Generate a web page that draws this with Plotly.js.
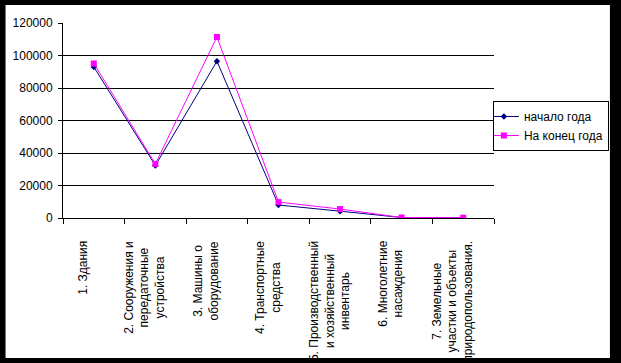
<!DOCTYPE html>
<html>
<head>
<meta charset="utf-8">
<script src="https://cdn.plot.ly/plotly-3.0.1.min.js"></script>
<style>html,body{margin:0;padding:0;background:#000;}#chart{width:621px;height:363px;}</style>
</head>
<body>
<div id="chart"></div>
<script>
var categories = [
  "1. Здания",
  "2. Сооружения и<br>передаточные<br>устройства",
  "3. Машины о<br>оборудование",
  "4. Транспортные<br>средства",
  "5. Производственный<br>и хозяйственный<br>инвентарь",
  "6. Многолетние<br>насаждения",
  "7. Земельные<br>участки и объекты<br>природопользования."
];
var seriesNames = ["начало года", "На конец года"];
var startOfYear = [93000, 32300, 96500, 8000, 4200, 300, 100];
var endOfYear = [95100, 33300, 111400, 9800, 5500, 300, 200];
var yTickVals = [0, 20000, 40000, 60000, 80000, 100000, 120000];

var W = 621, H = 363;
var M = {l: 63, r: 123, t: 23, b: 145};
var pw = W - M.l - M.r, ph = H - M.t - M.b;
function px2x(p) { return (p - M.l) / pw; }
function py2y(p) { return (H - M.b - p) / ph; }

var font = "Arial, 'Liberation Sans', sans-serif";

var traces = [
  {
    x: categories, y: startOfYear, name: seriesNames[0], type: 'scatter', mode: 'lines+markers',
    line: {color: '#000080', width: 1},
    marker: {symbol: 'diamond', size: 5, color: '#000080'}
  },
  {
    x: categories, y: endOfYear, name: seriesNames[1], type: 'scatter', mode: 'lines+markers',
    line: {color: '#FF00FF', width: 1},
    marker: {symbol: 'square', size: 6, color: '#FF00FF'}
  }
];

var annotations = categories.map(function (c) {
  return {
    x: c, xref: 'x', y: py2y(239), yref: 'paper',
    text: c, showarrow: false, textangle: -90,
    xanchor: 'center', yanchor: 'top', align: 'center', xshift: -11,
    font: {family: font, size: 12, color: '#000'}
  };
});

var layout = {
  width: W, height: H,
  margin: M,
  paper_bgcolor: '#000000',
  plot_bgcolor: '#ffffff',
  showlegend: true,
  font: {family: font, size: 12, color: '#000'},
  xaxis: {
    type: 'category', range: [-0.5, categories.length - 0.5],
    showticklabels: false, ticks: 'outside', tickson: 'boundaries', ticklen: 5,
    tickcolor: '#000', tickwidth: 1,
    showgrid: false, showline: true, linecolor: '#000', linewidth: 1,
    zeroline: false, fixedrange: true
  },
  yaxis: {
    range: [0, 120000], tickvals: yTickVals, ticktext: yTickVals.map(String),
    ticks: 'outside', ticklen: 4, tickcolor: '#000', tickwidth: 1,
    ticklabelstandoff: 3,
    showgrid: true, gridcolor: '#000', gridwidth: 1,
    showline: true, linecolor: '#000', linewidth: 1,
    zeroline: false, fixedrange: true,
    tickfont: {family: font, size: 12, color: '#000'}
  },
  legend: {
    x: px2x(614), xanchor: 'right', y: py2y(101), yanchor: 'top',
    bgcolor: '#ffffff', bordercolor: '#000', borderwidth: 1,
    font: {family: font, size: 12, color: '#000'},
    itemwidth: 30, tracegroupgap: 0, indentation: -10
  },
  shapes: [{
    type: 'rect', xref: 'paper', yref: 'paper', layer: 'below',
    x0: px2x(5), x1: px2x(615), y0: py2y(358), y1: py2y(5),
    fillcolor: '#ffffff', line: {width: 0}
  }],
  annotations: annotations
};

Plotly.newPlot('chart', traces, layout, {displayModeBar: false, staticPlot: true});
</script>
</body>
</html>
